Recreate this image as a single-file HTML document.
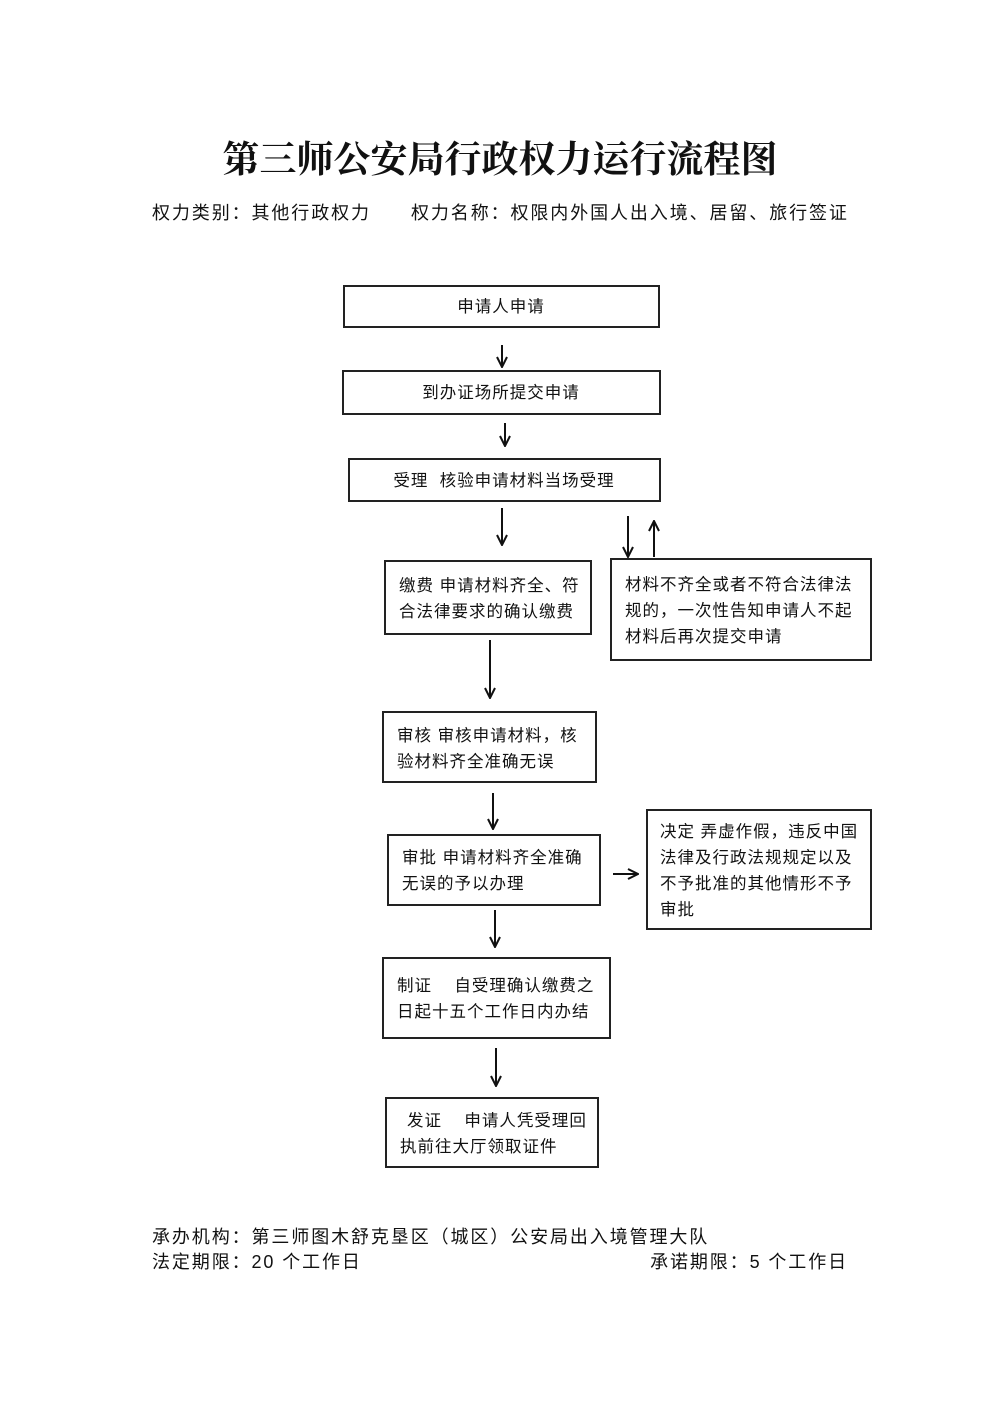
<!DOCTYPE html>
<html><head><meta charset="utf-8"><style>
html,body{margin:0;padding:0;background:#fff;}
svg{display:block}
text{font-family:"Liberation Sans","Noto Sans CJK SC",sans-serif;fill:#111;white-space:pre;}
.t{font-size:16.5px;letter-spacing:1px}
.s{font-size:18px;letter-spacing:1.9px}
</style></head><body>
<svg width="1000" height="1414" viewBox="0 0 1000 1414" xmlns="http://www.w3.org/2000/svg" xml:space="preserve">
<defs><marker id="a" viewBox="0 0 12 12" refX="11" refY="6" markerWidth="12" markerHeight="12" markerUnits="userSpaceOnUse" orient="auto"><path d="M1,1 L11,6 L1,11" fill="none" stroke="#111" stroke-width="2"/></marker></defs>
<text x="500" y="172" text-anchor="middle" style="font-family:'Liberation Serif','Noto Serif CJK SC',serif;font-size:37px;font-weight:bold;letter-spacing:0px">第三师公安局行政权力运行流程图</text>
<text x="152" y="219" class="s">权力类别：其他行政权力</text>
<text x="411" y="219" class="s">权力名称：权限内外国人出入境、居留、旅行签证</text>
<g fill="none" stroke="#222" stroke-width="2">
<rect x="344" y="286" width="315" height="41"/>
<rect x="343" y="371" width="317" height="43"/>
<rect x="349" y="459" width="311" height="42"/>
<rect x="385" y="561" width="206" height="73"/>
<rect x="611" y="559" width="260" height="101"/>
<rect x="383" y="712" width="213" height="70"/>
<rect x="388" y="835" width="212" height="70"/>
<rect x="647" y="810" width="224" height="119"/>
<rect x="383" y="958" width="227" height="80"/>
<rect x="386" y="1098" width="212" height="69"/>
</g>
<g stroke="#111" stroke-width="2" marker-end="url(#a)">
<line x1="502" y1="345" x2="502" y2="367"/>
<line x1="505" y1="423" x2="505" y2="446"/>
<line x1="502" y1="508" x2="502" y2="545"/>
<line x1="628" y1="516" x2="628" y2="557"/>
<line x1="654" y1="557" x2="654" y2="521"/>
<line x1="490" y1="640" x2="490" y2="698"/>
<line x1="493" y1="793" x2="493" y2="829"/>
<line x1="613" y1="874" x2="638" y2="874"/>
<line x1="495" y1="910" x2="495" y2="947"/>
<line x1="496" y1="1048" x2="496" y2="1086"/>
</g>
<text x="501" y="312" text-anchor="middle" class="t">申请人申请</text>
<text x="501" y="398" text-anchor="middle" class="t">到办证场所提交申请</text>
<text x="504" y="486" text-anchor="middle" class="t">受理  核验申请材料当场受理</text>
<text x="399" y="591" class="t">缴费 申请材料齐全、符</text>
<text x="399" y="617" class="t">合法律要求的确认缴费</text>
<text x="625" y="590" class="t">材料不齐全或者不符合法律法</text>
<text x="625" y="616" class="t">规的，一次性告知申请人不起</text>
<text x="625" y="642" class="t">材料后再次提交申请</text>
<text x="397" y="741" class="t">审核 审核申请材料，核</text>
<text x="397" y="767" class="t">验材料齐全准确无误</text>
<text x="402" y="863" class="t">审批 申请材料齐全准确</text>
<text x="402" y="889" class="t">无误的予以办理</text>
<text x="660" y="837" class="t">决定 弄虚作假，违反中国</text>
<text x="660" y="863" class="t">法律及行政法规规定以及</text>
<text x="660" y="889" class="t">不予批准的其他情形不予</text>
<text x="660" y="915" class="t">审批</text>
<text x="397" y="991" class="t">制证    自受理确认缴费之</text>
<text x="397" y="1017" class="t">日起十五个工作日内办结</text>
<text x="407" y="1126" class="t">发证    申请人凭受理回</text>
<text x="400" y="1152" class="t">执前往大厅领取证件</text>
<text x="152" y="1243" class="s">承办机构：第三师图木舒克垦区（城区）公安局出入境管理大队</text>
<text x="152" y="1268" class="s">法定期限：20 个工作日</text>
<text x="848" y="1268" text-anchor="end" class="s">承诺期限：5 个工作日</text>
</svg>
</body></html>
